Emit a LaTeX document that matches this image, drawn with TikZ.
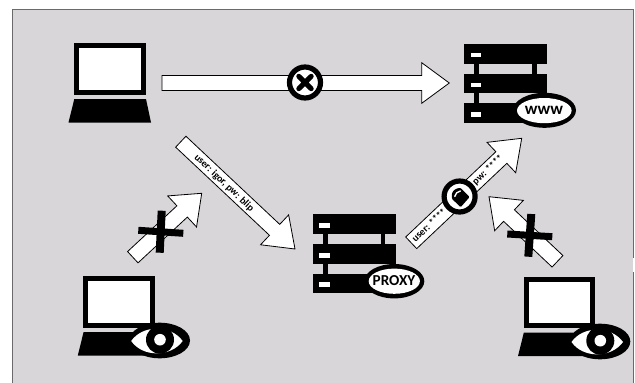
\documentclass[tikz,border=0pt]{standalone}
\usepackage{fontspec}
\setmainfont{Carlito}
\usetikzlibrary{calc}
\definecolor{panel}{HTML}{D9D6DA}
\definecolor{paneledge}{HTML}{6A6A6A}
\tikzset{
  ink/.style={fill=black,draw=none},
  paper/.style={fill=white,draw=none},
  arrowbody/.style={fill=white,draw=black,line width=0.8pt,line join=miter},
  ring/.style={fill=white,draw=black,line width=5.2pt},
  crossbar/.style={draw=black,line cap=butt},
  arrowtext/.style={inner sep=0pt,font=\fontsize{10}{10}\selectfont\bfseries},
  ellipsetext/.style={inner sep=0pt,font=\fontsize{17}{17}\selectfont\bfseries},
  proxytext/.style={inner sep=0pt,font=\fontsize{15.2}{15.2}\selectfont\bfseries}
}
% #1 tail, #2 tip, #3 half shaft width, #4 half head width, #5 head length
\newcommand{\blockarrow}[5]{%
  \coordinate (hb) at ($(#2)!#5!(#1)$);
  \draw[arrowbody] ($(#1)!#3!90:(#2)$) -- ($(hb)!#3!90:(#2)$) -- ($(hb)!#4!90:(#2)$) -- (#2)
     -- ($(hb)!#4!-90:(#2)$) -- ($(hb)!#3!-90:(#2)$) -- ($(#1)!#3!-90:(#2)$) -- cycle;}
\newcommand{\laptopicon}[2]{%
  \begin{scope}[shift={(#1,#2)}]
    \fill[ink] (0,0) rectangle (71.5,51.5);
    \fill[paper] (5,5) rectangle (66.5,46.5);
    \fill[ink] (0.3,56) -- (72,56) -- (77,79.5) -- (-5.5,79.5) -- cycle;
  \end{scope}}
\newcommand{\rackicon}[2]{%
  \begin{scope}[shift={(#1,#2)}]
    \fill[ink] (0,0) rectangle (83.3,19.7);
    \fill[ink] (0,29.7) rectangle (83.3,49.3);
    \fill[ink] (0,59.3) rectangle (83.3,78.7);
    \fill[ink] (10.3,19) rectangle (15.3,60);
    \fill[ink] (68,19) rectangle (72.7,30);
    \fill[paper] (6.7,8.7) rectangle (17,13.3);
    \fill[paper] (6.7,38.7) rectangle (17,43.3);
    \fill[paper] (6.7,67.7) rectangle (17,72.7);
  \end{scope}}
\newcommand{\eyeicon}[2]{%
  \begin{scope}[shift={(#1,#2)}]
    \fill[ink] (0,0) ellipse [x radius=30.3,y radius=17.8];
    \fill[paper] (-28.5,0.5) .. controls (-17,-16) and (11,-16) .. (23,0.5)
       .. controls (11,17) and (-17,17) .. cycle;
    \fill[ink] (0.3,-0.8) circle (14);
    \fill[paper] (0.3,-0.8) circle (5.8);
  \end{scope}}
\begin{document}
\begin{tikzpicture}[x=1pt,y=-1pt]
\useasboundingbox (0,0) rectangle (635,383);
\fill[white] (0,0) rectangle (635,383);
\fill[panel] (12,9) rectangle (634,383);
\draw[paneledge,line width=1pt] (12,383) -- (12,9) -- (633.6,9) -- (633.6,383);
\fill[white] (633,258) rectangle (635,272);

% laptops and racks
\laptopicon{74}{43}
\laptopicon{83.3}{276}
\laptopicon{523.5}{276.7}
\rackicon{464}{44}
\rackicon{312.7}{214.3}

% anchors of the arrows
\coordinate (topTail) at (162,83);
\coordinate (topTip) at (449.3,83);
\coordinate (igorTail) at (180.8,141.7);
\coordinate (igorTip) at (295,249);
\coordinate (lockTail) at (411.2,242.8);
\coordinate (lockTip) at (521.7,138.3);
\coordinate (leftTail) at (132.8,257.2);
\coordinate (leftTip) at (201.7,193.3);
\coordinate (rightTail) at (557.5,261.3);
\coordinate (rightTip) at (489,196.7);

\blockarrow{topTail}{topTip}{7.5pt}{20.3pt}{27.6pt}
\blockarrow{igorTail}{igorTip}{7.5pt}{20.5pt}{28pt}
\blockarrow{lockTail}{lockTip}{8pt}{20.9pt}{28pt}
\blockarrow{leftTail}{leftTip}{7.7pt}{21.2pt}{26.7pt}
\blockarrow{rightTail}{rightTip}{7.9pt}{20.9pt}{27.5pt}

% arrow labels
\node[arrowtext,rotate=-43.5] (igorLabel) at (224,183) {user: igor, pw: blip};
\node[arrowtext,rotate=43.4] (userLabel) at (429,225) {user: ****};
\node[arrowtext,rotate=43.4] (pwLabel) at (488,170) {pw: ****};

% blocked marker
\draw[ring] (305,82.5) circle (15.5);
\draw[black,line width=5pt,line cap=round] (298.8,76.3) -- (311.2,88.7) (311.2,76.3) -- (298.8,88.7);

% lock marker
\draw[ring] (459.6,196.5) circle (15.5);
\fill[ink,rounded corners=1pt] (469.6,197) -- (460.7,207.2) -- (451.8,198.7) -- (451.8,195)
   .. controls (452.2,191) and (456,188) .. (460.7,188) -- cycle;
\draw[white,line width=1.4pt,line cap=round] (454.8,196.4) .. controls (455.2,193.6) and (457.4,191.6) .. (460.4,191);

% crosses
\draw[crossbar,line width=8pt] (161.7,210.7) -- (159.7,252.7);
\draw[crossbar,line width=7pt] (138.3,230.3) -- (183.3,233.3);
\draw[crossbar,line width=8pt] (531.3,214) -- (528.3,256.7);
\draw[crossbar,line width=7pt] (507.3,234) -- (552.3,236.7);

% server tags
\fill[ink] (544.5,110.3) ellipse [x radius=31.5,y radius=17.5];
\fill[paper] (544.3,110.6) ellipse [x radius=27.3,y radius=12.6];
\node[ellipsetext] (wwwTag) at (544,110) {www};
\fill[ink] (394.3,281.2) ellipse [x radius=30,y radius=17.2];
\fill[paper] (394.3,281.2) ellipse [x radius=25.6,y radius=12.6];
\node[proxytext] (proxyTag) at (394,281) {PROXY};

% eyes
\eyeicon{159.7}{340.5}
\eyeicon{600}{341.5}
\end{tikzpicture}
\end{document}
